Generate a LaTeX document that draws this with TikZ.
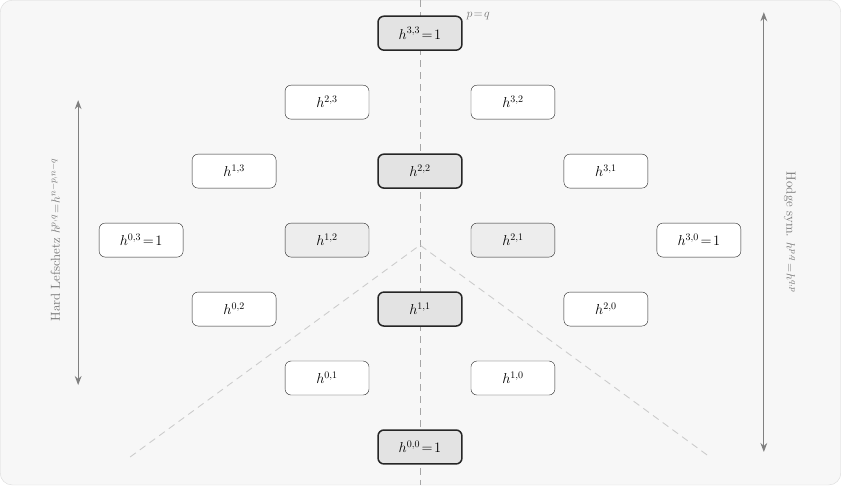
\documentclass[tikz,border=0pt]{standalone}
\usetikzlibrary{arrows.meta}
\tikzset{
  hbox/.style={draw=black!85, rounded corners=6pt, fill=white, minimum width=84pt, minimum height=34pt, inner sep=1pt, font=\fontsize{14}{16}\selectfont},
  diag/.style={hbox, fill=black!11, line width=1.5pt},
  mid/.style={hbox, fill=black!7},
  guide/.style={draw=black!35, line width=0.9pt, dash pattern=on 7pt off 5pt},
  sym/.style={{Stealth[length=9pt]}-{Stealth[length=9pt]}, draw=black!50, line width=1pt},
  note/.style={text=black!55, font=\fontsize{13}{15}\selectfont}
}
\begin{document}
\begin{tikzpicture}[x=1pt,y=-1pt]
  % Frame
  \draw[rounded corners=12pt, fill=black!3, draw=black!15] (0,0) rectangle (841,485);
  \useasboundingbox (0,0) rectangle (841,485);

  % Guides
  \coordinate (top) at (420,0);
  \coordinate (bot) at (420,485);
  \coordinate (apex) at (420,245);
  \coordinate (ll) at (130,457);
  \coordinate (lr) at (710,457);
  \draw[guide] (top) -- (bot);
  \draw[guide, draw=black!20] (ll) -- (apex) -- (lr);

  % Hodge numbers
  \foreach \p/\q/\st/\val in {0/0/diag/{\!=\!1}, 1/1/diag/, 2/2/diag/, 3/3/diag/{\!=\!1},
      0/3/hbox/{\!=\!1}, 3/0/hbox/{\!=\!1}, 1/2/mid/, 2/1/mid/,
      0/1/hbox/, 1/0/hbox/, 0/2/hbox/, 2/0/hbox/, 1/3/hbox/, 3/1/hbox/, 2/3/hbox/, 3/2/hbox/}
    \node[\st] (h\p\q) at ({420+(\p-\q)*93}, {447-(\p+\q)*69}) {$h^{\p,\q}\val$};
  \node[note, anchor=west] (pq) at (463,16) {$p\!=\!q$};

  % Symmetries
  \coordinate (la) at (78,100);
  \coordinate (lb) at (78,385);
  \coordinate (ra) at (764,12);
  \coordinate (rb) at (764,452);
  \draw[sym] (la) -- (lb);
  \draw[sym] (ra) -- (rb);
  \node[note, rotate=90] (lef) at (55,240) {Hard Lefschetz $h^{p,q}\!=\!h^{n-p,n-q}$};
  \node[note, rotate=-90] (hod) at (790,232) {Hodge sym. $h^{p,q}\!=\!h^{q,p}$};
\end{tikzpicture}
\end{document}
